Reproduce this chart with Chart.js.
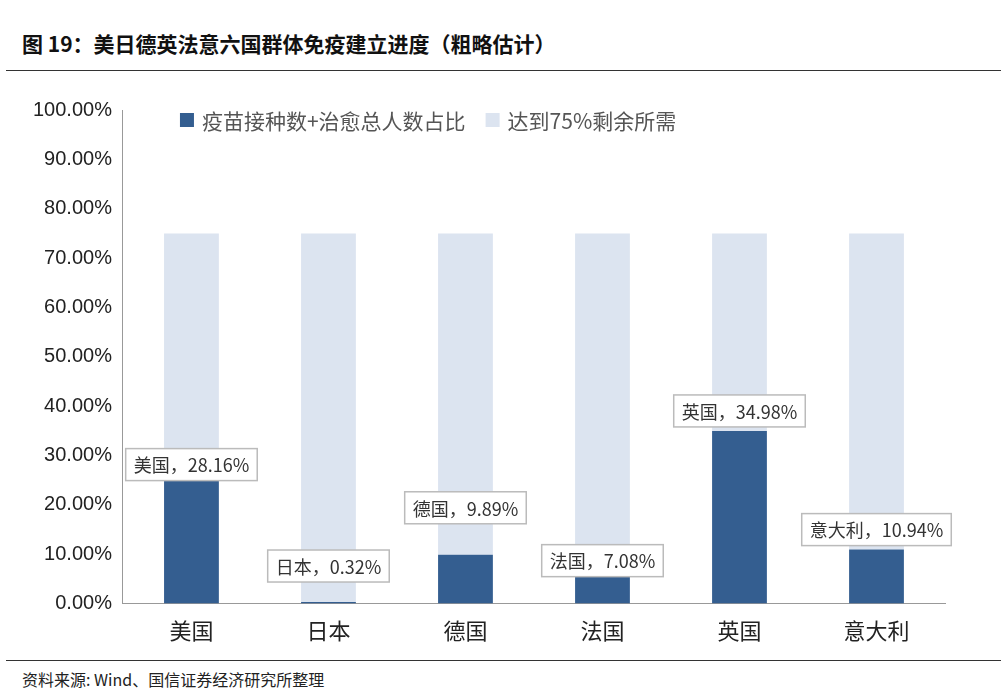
<!DOCTYPE html>
<html><head><meta charset="utf-8">
<script src="https://cdn.jsdelivr.net/npm/chart.js@4"></script>
<style>
body{margin:0;background:#fff;font-family:"Noto Sans CJK SC","Noto Sans",sans-serif;}
#title{position:absolute;left:22px;top:28px;font-size:21px;font-weight:bold;color:#111;}
#top{position:absolute;left:6px;right:6px;top:70px;border-top:1.5px solid #333;}
#bot{position:absolute;left:6px;right:6px;top:660px;border-top:1.5px solid #333;}
#src{position:absolute;left:22px;top:667px;font-size:16px;color:#222;}
#wrap{position:absolute;left:0;top:80px;width:1007px;height:570px;}
</style></head><body>
<div id="title">图 19：美日德英法意六国群体免疫建立进度（粗略估计）</div>
<div id="top"></div>
<div id="wrap"><canvas id="c"></canvas></div>
<div id="bot"></div>
<div id="src">资料来源: Wind、国信证券经济研究所整理</div>
<script>
const categories = ["美国","日本","德国","法国","英国","意大利"];
const progress = [28.16, 0.32, 9.89, 7.08, 34.98, 10.94];
const target = 75;
const remaining = progress.map(v => +(target - v).toFixed(2));
const yTicks = [0,10,20,30,40,50,60,70,80,90,100];
const seriesNames = ["疫苗接种数+治愈总人数占比", "达到75%剩余所需"];
const seriesColors = ["#345E90", "#DCE4F0"];
// vertical label offsets (px) from the bar top
const labelShift = [0, -36, -47, -8, -20, -20];

const labelPlugin = {
  id: "boxLabels",
  afterDatasetsDraw(chart){
    const ctx = chart.ctx, meta = chart.getDatasetMeta(0);
    ctx.save();
    ctx.font = "18px 'Noto Sans CJK SC'";
    ctx.textAlign = "center"; ctx.textBaseline = "middle";
    meta.data.forEach((bar, i) => {
      const txt = categories[i] + "，" + progress[i].toFixed(2) + "%";
      const w = ctx.measureText(txt).width + 16, h = 32;
      const x = bar.x, y = bar.y + labelShift[i];
      ctx.fillStyle = "#fff"; ctx.strokeStyle = "#bbb"; ctx.lineWidth = 1.5;
      ctx.fillRect(x - w/2, y - h/2, w, h); ctx.strokeRect(x - w/2, y - h/2, w, h);
      ctx.fillStyle = "#333"; ctx.fillText(txt, x, y + 1);
    });
    // legend inside plot area
    ctx.font = "21px 'Noto Sans CJK SC'";
    ctx.textAlign = "left";
    let lx = chart.chartArea.left + 57;
    const ly = chart.chartArea.top + 10;
    seriesNames.forEach((n, i) => {
      ctx.fillStyle = seriesColors[i];
      ctx.fillRect(lx, ly - 7, 14, 14);
      ctx.fillStyle = "#555";
      ctx.fillText(n, lx + 22, ly + 1);
      lx += 22 + ctx.measureText(n).width + 20;
    });
    ctx.restore();
  }
};

new Chart(document.getElementById("c"), {
  type: "bar",
  data: { labels: categories, datasets: [
    { label: seriesNames[0], data: progress, backgroundColor: seriesColors[0], categoryPercentage: 0.8, barPercentage: 0.5 },
    { label: seriesNames[1], data: remaining, backgroundColor: seriesColors[1], categoryPercentage: 0.8, barPercentage: 0.5 }
  ]},
  options: {
    responsive: true, maintainAspectRatio: false, animation: false,
    layout: { padding: { left: 30, right: 62, top: 30, bottom: 0 } },
    plugins: { tooltip: { enabled: false }, legend: { display: false } },
    scales: {
      x: { stacked: true, grid: { display: false }, border: { color: "#999" },
        ticks: { color: "#222", font: { size: 22, family: "Noto Sans CJK SC" }, padding: 6 } },
      y: { stacked: true, min: 0, max: 100, grid: { display: false }, border: { color: "#999" },
        afterBuildTicks: a => { a.ticks = yTicks.map(v => ({ value: v })); },
        ticks: { color: "#222", font: { size: 20, family: "Liberation Sans" }, callback: v => v.toFixed(2) + "%" } }
    }
  },
  plugins: [labelPlugin]
});
</script>
</body></html>
